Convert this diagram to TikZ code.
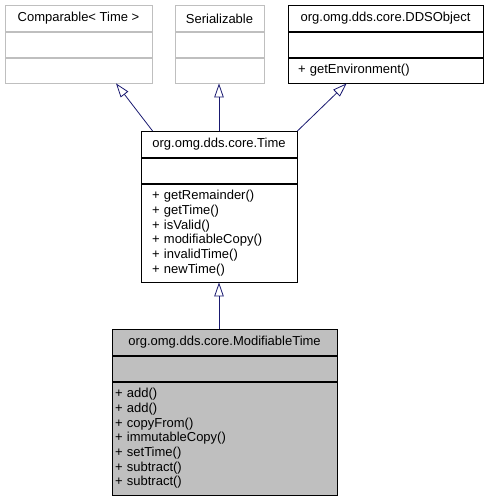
\documentclass[tikz,border=0pt]{standalone}
\usepackage{fontspec}
\setmainfont{Liberation Sans}
\usetikzlibrary{arrows.meta}
\definecolor{edgeblue}{HTML}{191970}
\definecolor{boxgray}{HTML}{BFBFBF}
\begin{document}
\begin{tikzpicture}[x=1pt, y=-1pt, line width=0.8pt,
    every node/.style={font=\fontsize{13}{14.7}\selectfont, inner sep=0pt},
    part/.style={draw, anchor=north, minimum height=25pt},
    head/.style={part, minimum height=26pt},
    ext/.style={draw=boxgray},
    cur/.style={fill=boxgray},
    ops/.style={part, align=left, inner xsep=#1},
    inherit/.style={edgeblue, -{Triangle[open, length=14pt, width=9.5pt]}}]
    \useasboundingbox (0,0) rectangle (489,500);
    % parents
    \node [head, ext, minimum width=147pt] (cmp) at (78.5,5) {Comparable< Time >};
    \node [part, ext, minimum width=147pt] (cmp attr) at (cmp.south) {};
    \node [part, ext, minimum width=147pt] (cmp ops) at (cmp attr.south) {};
    \node [head, ext, minimum width=89pt] (ser) at (219.5,5) {Serializable};
    \node [part, ext, minimum width=89pt] (ser attr) at (ser.south) {};
    \node [part, ext, minimum width=89pt] (ser ops) at (ser attr.south) {};
    \node [head, minimum width=195pt] (dds) at (385.5,5) {org.omg.dds.core.DDSObject};
    \node [part, minimum width=195pt] (dds attr) at (dds.south) {};
    \node [ops=10pt, text width=175pt] (dds ops) at (dds attr.south) {+ getEnvironment()};
    % Time
    \node [head, minimum width=156pt] (time) at (219,131) {org.omg.dds.core.Time};
    \node [part, minimum width=156pt] (time attr) at (time.south) {};
    \node [ops=11pt, text width=134pt, minimum height=98pt] (time ops) at (time attr.south)
        {+ getRemainder()\\+ getTime()\\+ isValid()\\+ modifiableCopy()\\+ invalidTime()\\+ newTime()};
    % ModifiableTime
    \node [head, cur, minimum width=225pt] (mod) at (224.5,329) {org.omg.dds.core.ModifiableTime};
    \node [part, cur, minimum width=225pt] (mod attr) at (mod.south) {};
    \node [ops=3pt, cur, text width=219pt, minimum height=113pt] (mod ops) at (mod attr.south)
        {+ add()\\+ add()\\+ copyFrom()\\+ immutableCopy()\\+ setTime()\\+ subtract()\\+ subtract()};
    \draw [inherit] ([xshift=12pt]time.north west) -- ([xshift=37.5pt]cmp ops.south);
    \draw [inherit] (time.north) -- (time.north |- ser ops.south);
    \draw [inherit] (time.north east) -- ([xshift=59pt]dds ops.south west);
    \draw [inherit] (mod.north -| time ops.south) -- (time ops.south);
\end{tikzpicture}
\end{document}
